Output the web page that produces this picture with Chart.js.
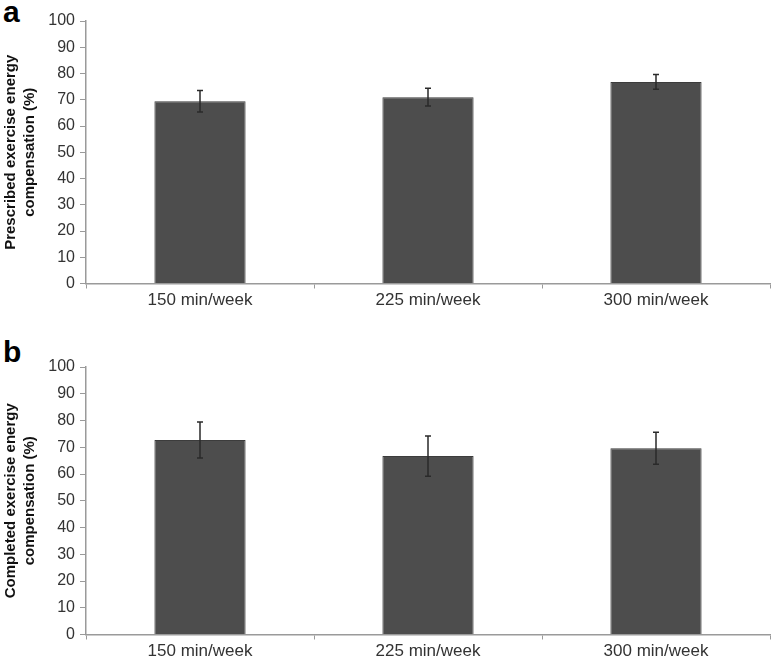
<!DOCTYPE html>
<html>
<head>
<meta charset="utf-8">
<script src="https://cdn.jsdelivr.net/npm/chart.js@4/dist/chart.umd.min.js"></script>
<style>
  html, body { margin: 0; padding: 0; background: #fff; }
  body { width: 773px; height: 664px; position: relative; overflow: hidden; font-family: "Liberation Sans", Arial, sans-serif; }
  canvas { position: absolute; left: 0; }
  #chart-a { top: 0; }
  #chart-b { top: 335px; }
  .panel-letter { position: absolute; left: 3px; font-weight: bold; font-size: 30px; line-height: 30px; color: #000; }
</style>
</head>
<body>
<div class="panel-letter" style="top:-3px">a</div>
<div class="panel-letter" style="top:337px">b</div>
<canvas id="chart-a" width="773" height="320"></canvas>
<canvas id="chart-b" width="773" height="329"></canvas>
<script>
// ═══ DATA ═══
const categories = ['150 min/week', '225 min/week', '300 min/week'];
const yTicks = [0, 10, 20, 30, 40, 50, 60, 70, 80, 90, 100];

const prescribedMean = [69.4, 71.0, 76.8];
const prescribedErr = [4.1, 3.4, 2.8];

const completedMean = [72.7, 66.7, 69.6];
const completedErr = [6.7, 7.5, 6.0];

// ═══ ERROR BARS ═══
const errorBars = {
  id: 'errorBars',
  afterDatasetsDraw(chart, args, opts) {
    const ctx = chart.ctx;
    const y = chart.scales.y;
    const meta = chart.getDatasetMeta(0);
    const vals = chart.data.datasets[0].data;
    ctx.save();
    ctx.strokeStyle = '#2a2a2a';
    ctx.lineWidth = 1.5;
    meta.data.forEach((bar, i) => {
      const top = y.getPixelForValue(vals[i] + opts.err[i]);
      const bot = y.getPixelForValue(vals[i] - opts.err[i]);
      ctx.beginPath();
      ctx.moveTo(bar.x, top); ctx.lineTo(bar.x, bot);
      ctx.moveTo(bar.x - 3, top); ctx.lineTo(bar.x + 3, top);
      ctx.moveTo(bar.x - 3, bot); ctx.lineTo(bar.x + 3, bot);
      ctx.stroke();
    });
    ctx.restore();
  }
};

const axisGray = '#9a9a9a';
const fam = '"Liberation Sans", Arial, sans-serif';

function makeChart(id, values, errs, titleLines, padTop, xHeight) {
  return new Chart(document.getElementById(id), {
    type: 'bar',
    data: {
      labels: categories,
      datasets: [{
        data: values,
        backgroundColor: '#4d4d4d',
        borderColor: '#3c3c3c',
        borderWidth: 1,
        categoryPercentage: 1,
        barPercentage: 0.4
      }]
    },
    options: {
      responsive: false,
      animation: false,
      devicePixelRatio: 1,
      layout: { padding: { top: padTop, right: 3, left: 0, bottom: 0 } },
      plugins: { legend: { display: false }, tooltip: { enabled: false }, errorBars: { err: errs } },
      scales: {
        x: {
          grid: { drawOnChartArea: false, color: axisGray, tickLength: 5, offset: true },
          border: { color: axisGray, width: 1.5 },
          ticks: { color: '#333', font: { family: fam, size: 17 }, padding: 2, maxRotation: 0 },
          afterFit: s => { s.height = xHeight; }
        },
        y: {
          min: 0, max: 100,
          afterBuildTicks: s => { s.ticks = yTicks.map(v => ({ value: v })); },
          grid: { drawOnChartArea: false, color: axisGray, tickLength: 6 },
          border: { color: axisGray, width: 1.5 },
          ticks: { color: '#333', font: { family: fam, size: 16 }, padding: 5 },
          title: {
            display: true,
            text: titleLines,
            color: '#111',
            font: { family: fam, size: 15, weight: 'bold', lineHeight: 1.3 },
            padding: { top: 1, bottom: 0 }
          },
          afterFit: s => { s.width = 86; }
        }
      }
    },
    plugins: [errorBars]
  });
}

makeChart('chart-a', prescribedMean, prescribedErr,
  ['Prescribed exercise energy', 'compensation (%)'], 21, 36.5);
makeChart('chart-b', completedMean, completedErr,
  ['Completed exercise energy', 'compensation (%)'], 32, 29.5);
</script>
</body>
</html>
